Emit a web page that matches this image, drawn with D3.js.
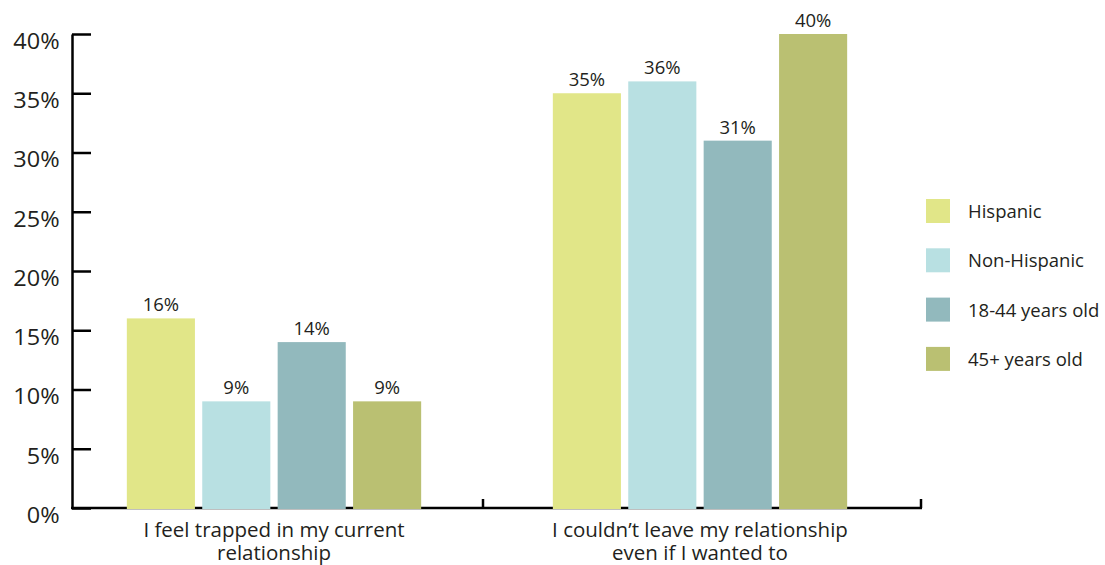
<!DOCTYPE html>
<html>
<head>
<meta charset="utf-8">
<script src="https://cdn.jsdelivr.net/npm/d3@7"></script>
<style>
  html, body { margin: 0; padding: 0; background: #fff; }
  svg { display: block; font-family: "Open Sans", "Noto Sans", sans-serif; }
</style>
</head>
<body>
<svg id="chart" width="1105" height="565"></svg>
<script>
// ---- data ----
const categories = [
  ["I feel trapped in my current", "relationship"],
  ["I couldn\u2019t leave my relationship", "even if I wanted to"]
];
const seriesNames = ["Hispanic", "Non-Hispanic", "18-44 years old", "45+ years old"];
const seriesColors = ["#e1e688", "#b8e0e2", "#92b9bd", "#bac072"];
const valuesHispanic    = [16, 35];
const valuesNonHispanic = [9, 36];
const values18to44      = [14, 31];
const values45plus      = [9, 40];
const yTicks = [0, 5, 10, 15, 20, 25, 30, 35, 40];

const seriesValues = [valuesHispanic, valuesNonHispanic, values18to44, values45plus];
const catKeys = categories.map((c, i) => i);

// ---- layout ----
const svg = d3.select("#chart");
const axisLeftX = 72, axisRightX = 921, baseY = 508, topY = 34;
const textColor = "#231f20";

const y = d3.scaleLinear().domain([0, 40]).range([baseY, topY]);
const x0 = d3.scaleBand().domain(catKeys).range([61, 913]).paddingInner(0).paddingOuter(0);
const x1 = d3.scaleBand().domain(d3.range(seriesNames.length))
  .range([0, x0.bandwidth()]).paddingInner(0.097).paddingOuter(0.873);

// ---- y axis ----
const yAxis = d3.axisLeft(y).tickValues(yTicks).tickFormat(d => d + "%")
  .tickSizeInner(-19).tickSizeOuter(0).tickPadding(11);
const gy = svg.append("g").attr("transform", `translate(${axisLeftX},0)`).call(yAxis);
gy.select(".domain").attr("stroke", "#000").attr("stroke-width", 2.5);
gy.selectAll(".tick line").attr("stroke", "#000").attr("stroke-width", 2.5);
gy.selectAll(".tick text").attr("fill", textColor).attr("font-size", 21)
  .attr("font-family", "'Open Sans', sans-serif").attr("dy", "0.68em")
  .attr("transform", "scale(1.12,1)");

// ---- x axis frame ----
const gx = svg.append("g");
gx.append("line").attr("x1", axisLeftX - 1).attr("x2", axisRightX + 1)
  .attr("y1", baseY).attr("y2", baseY).attr("stroke", "#000").attr("stroke-width", 2.5);
const xTickPos = [x0(1) - 4, axisRightX];
gx.selectAll("line.xt").data(xTickPos).join("line").attr("class", "xt")
  .attr("x1", d => d).attr("x2", d => d).attr("y1", baseY).attr("y2", baseY - 9)
  .attr("stroke", "#000").attr("stroke-width", 2.5);

// ---- bars ----
const groups = svg.append("g").selectAll("g").data(catKeys).join("g")
  .attr("transform", d => `translate(${x0(d)},0)`);

groups.selectAll("rect")
  .data(ci => seriesValues.map((vals, si) => ({ si, v: vals[ci] })))
  .join("rect")
  .attr("x", d => x1(d.si))
  .attr("width", x1.bandwidth())
  .attr("y", d => y(d.v))
  .attr("height", d => y(0) - y(d.v) + 1)
  .attr("fill", d => seriesColors[d.si]);

groups.selectAll("text.val")
  .data(ci => seriesValues.map((vals, si) => ({ si, v: vals[ci] })))
  .join("text").attr("class", "val")
  .attr("x", d => x1(d.si) + x1.bandwidth() / 2)
  .attr("y", d => y(d.v) - 7)
  .attr("text-anchor", "middle")
  .attr("font-size", 18.5)
  .attr("fill", textColor)
  .text(d => d.v + "%");

// ---- category labels (one text per line) ----
const catLines = catKeys.flatMap(ci => categories[ci].map((line, li) => ({ ci, li, line })));
svg.append("g").selectAll("text").data(catLines).join("text")
  .attr("text-anchor", "middle").attr("font-size", 20.5).attr("fill", textColor)
  .attr("x", d => x0(d.ci) + x0.bandwidth() / 2)
  .attr("y", d => 537 + d.li * 23)
  .text(d => d.line);

// ---- legend ----
const legend = svg.append("g").attr("transform", "translate(926,199)");
const li = legend.selectAll("g").data(seriesNames).join("g")
  .attr("transform", (d, i) => `translate(0,${i * 49.3})`);
li.append("rect").attr("width", 24).attr("height", 24)
  .attr("fill", (d, i) => seriesColors[i]);
li.append("text").attr("x", 42).attr("y", 19).attr("font-size", 18.5)
  .attr("fill", textColor).text(d => d);
</script>
</body>
</html>
